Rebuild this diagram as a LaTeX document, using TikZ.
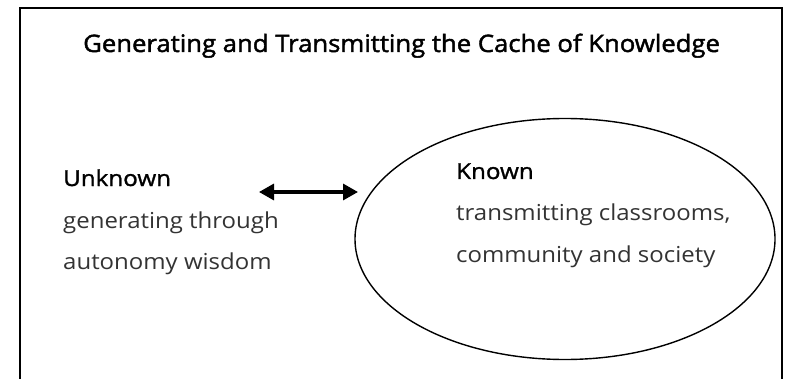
\documentclass[tikz,border=0pt]{standalone}
\usepackage{fontspec}
\setmainfont{Open Sans}[FakeStretch=1.09]
\newfontfamily\headfont{Open Sans}[FakeBold=1.3,FakeStretch=1.1]
\newfontfamily\titlefont{Open Sans}[FakeBold=1.8,FakeStretch=1.07]
\usetikzlibrary{arrows.meta,shapes.geometric}
\tikzset{
  frame/.style={line width=2pt, draw=black},
  knownshape/.style={ellipse, draw=black, line width=1.4pt, minimum width=420pt, minimum height=241pt, inner sep=0pt},
  head/.style={anchor=base west, inner sep=0pt, font=\fontsize{22}{22}\selectfont\headfont},
  body/.style={anchor=base west, inner sep=0pt, text=black!80, font=\fontsize{22}{22}\selectfont},
  link/.style={line width=3.2pt, {Triangle[length=15pt,width=16pt]}-{Triangle[length=15pt,width=16pt]}}
}
\begin{document}
\begin{tikzpicture}[x=1pt,y=-1pt]
\useasboundingbox (0,0) rectangle (791,379);
\draw[frame] (19.5,8) rectangle (781.5,420);
\node[anchor=base west, inner sep=0pt, font=\fontsize{24}{24}\selectfont\titlefont] (title) at (83,52) {Generating and Transmitting the Cache of Knowledge};
\node[knownshape] (known) at (565,239) {};
\node[head] (unk) at (63,186) {Unknown};
\node[body] (unk1) at (63,228) {generating through};
\node[body] (unk2) at (63,269) {autonomy wisdom};
\node[head] (kn) at (456,179) {Known};
\node[body] (kn1) at (456,220) {transmitting classrooms,};
\node[body] (kn2) at (456,262) {community and society};
\coordinate (al) at (259,192);
\coordinate (ar) at (358,192);
\draw[link] (al) -- (ar);
\end{tikzpicture}
\end{document}
